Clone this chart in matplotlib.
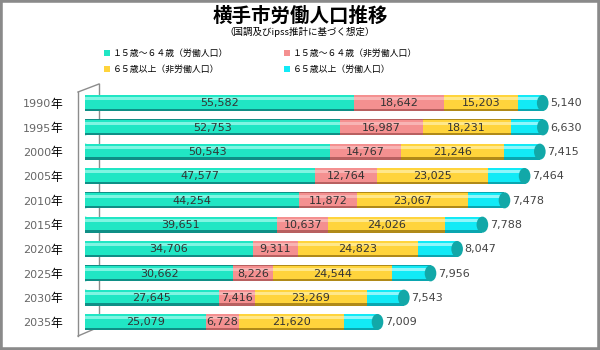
import numpy as np
import matplotlib.pyplot as plt
from matplotlib.patches import Ellipse, Rectangle

plt.rcParams['font.family'] = ['Noto Sans CJK JP', 'DejaVu Sans']

# データ
years = ['1990', '1995', '2000', '2005', '2010', '2015', '2020', '2025', '2030', '2035']
work_15_64 = [55582, 52753, 50543, 47577, 44254, 39651, 34706, 30662, 27645, 25079]
nonwork_15_64 = [18642, 16987, 14767, 12764, 11872, 10637, 9311, 8226, 7416, 6728]
nonwork_65 = [15203, 18231, 21246, 23025, 23067, 24026, 24823, 24544, 23269, 21620]
work_65 = [5140, 6630, 7415, 7464, 7478, 7788, 8047, 7956, 7543, 7009]

series = [work_15_64, nonwork_15_64, nonwork_65, work_65]
labels = ['１５歳～６４歳（労働人口）', '１５歳～６４歳（非労働人口）',
          '６５歳以上（非労働人口）', '６５歳以上（労働人口）']
base_cols = ['#20e6c4', '#f49090', '#ffd43c', '#12eaf6']
dark_cols = ['#0f8f86', '#b86060', '#b08a18', '#0aa6b0']
light_cols = ['#7ff5e2', '#f8b4b4', '#ffe88a', '#8ff6fb']
cap_col = '#12a8a8'

W, H = 600, 350
fig = plt.figure(figsize=(6, 3.5), dpi=100)
fig.patch.set_facecolor('white')
fig.add_artist(Rectangle((0, 0), 1, 1, transform=fig.transFigure,
                         fill=False, edgecolor='#8a8a8a', linewidth=4))

# タイトル
fig.text(0.5, 1 - 16 / H, '横手市労働人口推移', ha='center', va='center',
         fontsize=14, fontweight='bold', color='black')
fig.text(0.5, 1 - 32 / H, '（国調及びipss推計に基づく想定）', ha='center', va='center',
         fontsize=6.8, color='black')

ax = fig.add_axes([85 / W, 10 / H, 475 / W, 255 / H])
ax.patch.set_alpha(0)
x_max = 475 / 4.84 * 1000
n = len(years)
y = np.arange(n)
h = 0.66

# 3D風の軸線
for xs, ys in [([99, 99], [84, 327]), ([78, 99], [92, 84]),
               ([78, 78], [92, 336]), ([78, 99], [336, 327])]:
    ax.plot([v / W for v in xs], [1 - v / H for v in ys], transform=fig.transFigure,
            color='#8c8c8c', linewidth=1.0, clip_on=False, zorder=0.5)

left = np.zeros(n)
for i, vals in enumerate(series):
    vals = np.array(vals)
    ax.barh(y, vals, left=left, height=h, color=dark_cols[i], zorder=2)
    ax.barh(y - 0.04, vals, left=left, height=h - 0.12, color=base_cols[i], zorder=3)
    ax.barh(y - 0.17, vals, left=left, height=0.12, color=light_cols[i], zorder=4)
    for j in range(n):
        cx = left[j] + vals[j] / 2
        if i < 3:
            ax.text(cx, y[j] + 0.02, f'{vals[j]:,}', ha='center', va='center',
                    fontsize=8, color='#333333', family='DejaVu Sans', zorder=6)
    left = left + vals

# 両端のキャップと外側ラベル
for j in range(n):
    ax.add_patch(Ellipse((0, y[j]), 2400, h, facecolor='#18d0b4', edgecolor='none', zorder=1))
    ax.add_patch(Ellipse((left[j], y[j]), 2400, h, facecolor=cap_col, edgecolor='none', zorder=5))
    ax.text(left[j] + 1500, y[j] + 0.02, f'{work_65[j]:,}', ha='left', va='center',
            fontsize=8, color='#444444', family='DejaVu Sans', zorder=6)
    ax.text(-4800, y[j] + 0.05, '年', ha='right', va='center', fontsize=8.5, color='black')
    ax.text(-7000, y[j] + 0.05, years[j], ha='right', va='center', fontsize=8,
            color='#666666', family='DejaVu Sans')

ax.set_xlim(0, x_max)
ax.set_ylim(n - 1 + 0.74, -0.74)
ax.axis('off')

# 凡例
leg_pos = [(107, 53), (287, 53), (107, 69), (287, 69)]
for (px, py), lab, col in zip(leg_pos, labels, base_cols):
    fig.add_artist(Rectangle(((px - 3) / W, 1 - (py + 3) / H), 6 / W, 6 / H,
                             transform=fig.transFigure, facecolor=col, edgecolor='none'))
    fig.text((px + 6) / W, 1 - py / H, lab, ha='left', va='center', fontsize=6.4, color='black')

fig.savefig('out.png', dpi=100, facecolor='white')
